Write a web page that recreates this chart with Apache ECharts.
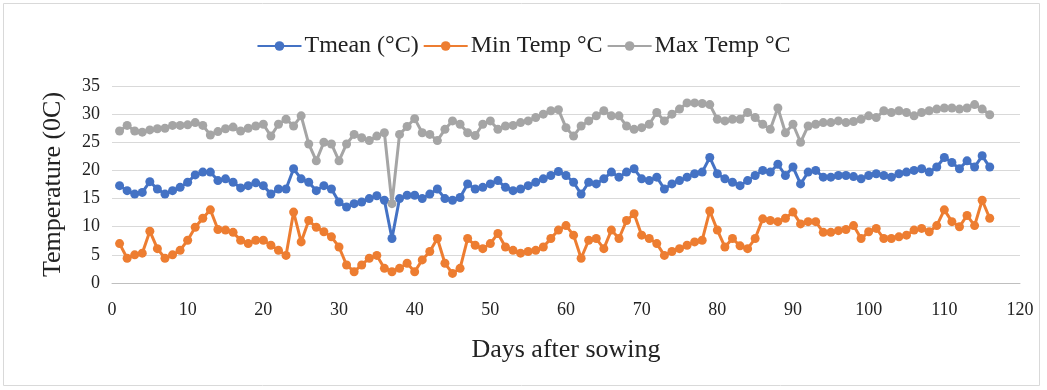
<!DOCTYPE html>
<html>
<head>
<meta charset="utf-8">
<script src="https://cdn.jsdelivr.net/npm/echarts@6/dist/echarts.min.js"></script>
<style>
  html, body { margin: 0; padding: 0; background: #fff; }
  #chart { width: 1047px; height: 390px; }
</style>
</head>
<body>
<div id="chart"></div>
<script>
// daily temperatures, days 1..116 after sowing
const tmean = [
  17.3, 16.4, 15.8, 16.1, 18.0, 16.7, 15.8, 16.4, 17.0, 17.9,
  19.2, 19.7, 19.7, 18.2, 18.5, 17.9, 16.9, 17.3, 17.8, 17.3,
  15.8, 16.7, 16.7, 20.3, 18.5, 17.9, 16.4, 17.3, 16.7, 14.4,
  13.5, 14.1, 14.4, 15.0, 15.5, 14.7, 7.9, 15.0, 15.6, 15.6,
  15.0, 15.8, 16.7, 15.0, 14.7, 15.2, 17.6, 16.7, 17.0, 17.6,
  18.2, 17.0, 16.4, 16.7, 17.3, 17.9, 18.5, 19.1, 19.8, 19.1,
  17.9, 15.8, 17.9, 17.6, 18.5, 19.7, 18.8, 19.7, 20.3, 18.5,
  18.2, 18.8, 16.7, 17.6, 18.2, 18.8, 19.4, 19.7, 22.3, 19.4,
  18.5, 17.9, 17.3, 18.2, 19.1, 20.0, 19.7, 21.1, 19.1, 20.6,
  17.6, 19.7, 20.0, 18.8, 18.8, 19.1, 19.1, 18.9, 18.5, 19.1,
  19.4, 19.1, 18.8, 19.4, 19.7, 20.0, 20.3, 19.7, 20.6, 22.3,
  21.4, 20.3, 21.7, 20.6, 22.6, 20.6
];
const minTemp = [
  7.0, 4.4, 5.0, 5.3, 9.2, 6.1, 4.4, 5.0, 5.8, 7.6,
  9.9, 11.5, 13.0, 9.5, 9.4, 9.0, 7.6, 7.0, 7.6, 7.6,
  6.7, 5.8, 4.9, 12.6, 7.3, 11.1, 9.9, 9.1, 8.2, 6.4,
  3.2, 2.0, 3.2, 4.4, 4.9, 2.6, 2.0, 2.6, 3.5, 2.0,
  4.1, 5.6, 7.9, 3.5, 1.7, 2.6, 7.9, 6.7, 6.1, 7.0,
  8.8, 6.4, 5.8, 5.3, 5.6, 5.8, 6.4, 7.9, 9.4, 10.2,
  8.5, 4.4, 7.6, 7.9, 6.1, 9.4, 7.9, 11.1, 12.3, 8.5,
  7.9, 7.0, 4.9, 5.6, 6.1, 6.7, 7.3, 7.6, 12.8, 9.4,
  6.4, 7.9, 6.6, 6.1, 7.9, 11.4, 11.1, 10.9, 11.5, 12.6,
  10.5, 10.9, 10.9, 9.0, 9.0, 9.3, 9.5, 10.2, 7.9, 9.1,
  9.7, 7.9, 7.9, 8.2, 8.5, 9.4, 9.7, 9.1, 10.2, 13.0,
  10.9, 10.0, 12.0, 10.2, 14.7, 11.5
];
const maxTemp = [
  27.0, 28.0, 27.0, 26.8, 27.2, 27.4, 27.5, 28.0, 28.0, 28.1,
  28.5, 28.0, 26.3, 26.9, 27.4, 27.7, 27.0, 27.5, 27.9, 28.2,
  26.1, 28.2, 29.1, 27.9, 29.7, 24.7, 21.7, 25.0, 24.7, 21.7,
  24.7, 26.4, 25.8, 25.3, 26.1, 26.7, 14.1, 26.4, 27.8, 29.2,
  26.7, 26.4, 25.3, 27.3, 28.8, 28.2, 26.7, 26.2, 28.2, 28.8,
  27.3, 27.9, 28.0, 28.5, 28.8, 29.4, 30.0, 30.6, 30.8, 27.6,
  26.1, 27.9, 28.8, 29.7, 30.6, 29.7, 29.7, 27.9, 27.3, 27.6,
  28.2, 30.3, 28.8, 30.0, 30.9, 32.0, 32.0, 31.9, 31.7, 29.1,
  28.8, 29.1, 29.1, 30.3, 29.4, 28.2, 27.3, 31.1, 26.7, 28.2,
  25.0, 27.9, 28.2, 28.5, 28.5, 28.8, 28.5, 28.7, 29.1, 29.7,
  29.4, 30.6, 30.3, 30.6, 30.3, 29.7, 30.3, 30.6, 30.9, 31.1,
  31.1, 30.9, 31.1, 31.7, 30.9, 29.9
];
const seriesNames = ['Tmean (\u00B0C)', 'Min Temp \u00B0C', 'Max Temp \u00B0C'];
const colors = ['#4472C4', '#ED7D31', '#A5A5A5'];

const font = '"Liberation Serif", "DejaVu Serif", serif';
const chart = echarts.init(document.getElementById('chart'));

function makeSeries(name, values, color) {
  return {
    name: name,
    type: 'line',
    data: values.map((v, i) => [i + 1, v]),
    symbol: 'circle',
    symbolSize: 9,
    lineStyle: { width: 3, color: color },
    itemStyle: { color: color },
    animation: false
  };
}

const option = {
  color: colors,
  graphic: [{
    type: 'rect',
    shape: { x: 3.5, y: 3.5, width: 1036, height: 382 },
    style: { fill: 'none', stroke: '#D9D9D9', lineWidth: 1 },
    silent: true
  }],
  legend: {
    top: 29,
    left: 'center',
    itemWidth: 44,
    itemHeight: 12,
    itemGap: 4,
    textStyle: { fontFamily: font, fontSize: 24, color: '#222', padding: [0, 0, 0, -2] },
    data: seriesNames
  },
  grid: { left: 112, right: 27, top: 86, bottom: 107 },
  xAxis: {
    type: 'value',
    min: 0,
    max: 120,
    interval: 10,
    name: 'Days after sowing',
    nameLocation: 'middle',
    nameGap: 54,
    nameTextStyle: { fontFamily: font, fontSize: 26, color: '#222' },
    axisLine: { show: true, lineStyle: { color: '#BFBFBF', width: 1 } },
    axisTick: { show: false },
    splitLine: { show: false },
    axisLabel: { fontFamily: font, fontSize: 18, color: '#222', margin: 18 }
  },
  yAxis: {
    type: 'value',
    min: 0,
    max: 35,
    interval: 5,
    name: 'Temperature (0C)',
    nameLocation: 'middle',
    nameGap: 46,
    nameRotate: 90,
    nameTextStyle: { fontFamily: font, fontSize: 26, color: '#222' },
    axisLine: { show: false },
    axisTick: { show: false },
    splitLine: { lineStyle: { color: '#D9D9D9', width: 1 } },
    axisLabel: { fontFamily: font, fontSize: 18, color: '#222', margin: 12 }
  },
  series: [
    makeSeries(seriesNames[0], tmean, colors[0]),
    makeSeries(seriesNames[1], minTemp, colors[1]),
    makeSeries(seriesNames[2], maxTemp, colors[2])
  ]
};

chart.setOption(option);
</script>
</body>
</html>
